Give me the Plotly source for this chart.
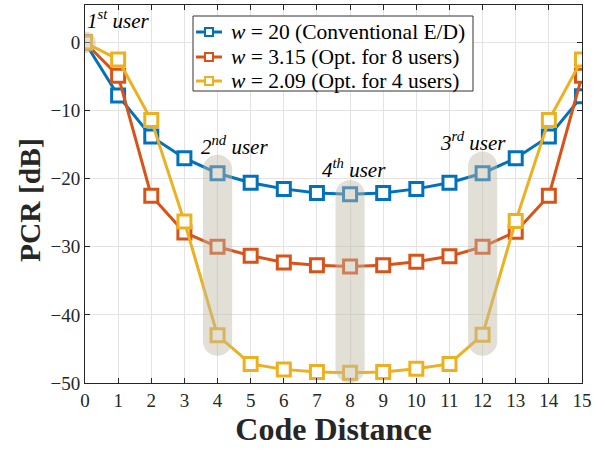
import plotly.graph_objects as go

# Code distance (0..15) and PCR curves for three window parameters
code_distance = list(range(16))

pcr_w20 = [0, -7.8, -13.8, -17.0, -19.2, -20.6, -21.5, -22.1, -22.3,
           -22.1, -21.5, -20.6, -19.2, -17.0, -13.8, -7.9]
pcr_w315 = [0, -4.9, -22.5, -27.9, -30.0, -31.3, -32.3, -32.7, -32.9,
            -32.7, -32.2, -31.4, -30.0, -27.8, -22.5, -4.9]
pcr_w209 = [0, -2.5, -11.4, -26.3, -43.0, -47.2, -48.0, -48.4, -48.5,
            -48.4, -47.9, -47.2, -42.9, -26.2, -11.4, -2.5]

series_names = [
    "<i>w</i> = 20 (Conventional E/D)",
    "<i>w</i> = 3.15 (Opt. for 8 users)",
    "<i>w</i> = 2.09 (Opt. for 4 users)",
]
series_colors = ["#0072BD", "#D95319", "#EDB120"]

# Highlighted user positions: (code distance, top, bottom) of shaded pills
user_marks = [(4, -16.5, -46.0), (8, -20.2, -50.0), (12, -16.0, -46.0)]
user_labels = [
    (1.0, 3.3, "1<sup>st</sup> user"),
    (4.5, -15.2, "2<sup>nd</sup> user"),
    (8.13, -18.5, "4<sup>th</sup> user"),
    (11.72, -14.6, "3<sup>rd</sup> user"),
]

FONT = "Liberation Serif, Times New Roman, serif"

# Plot-area geometry in pixels (used for legend box placement)
W, H = 605, 452
ML, MR, MT, MB = 85, 23, 5, 69
PW, PH = W - ML - MR, H - MT - MB


def px(xp):
    return (xp - ML) / PW


def py(yp):
    return (H - MB - yp) / PH


fig = go.Figure()
for name, ys, col in zip(series_names, [pcr_w20, pcr_w315, pcr_w209], series_colors):
    fig.add_trace(go.Scatter(
        x=code_distance, y=ys, name=name, mode="lines+markers",
        line=dict(color=col, width=3),
        marker=dict(symbol="square", size=13, color="white",
                    line=dict(color=col, width=3)),
        showlegend=False,
    ))

# Rounded translucent pills around highlighted points
rx, ry = 0.44, 2.1
k = 0.5523


def pill(xc, ytop, ybot):
    xl, xr = xc - rx, xc + rx
    yt, yb = ytop - ry, ybot + ry
    return (f"M {xl} {yt} C {xl} {yt + k*ry} {xc - k*rx} {ytop} {xc} {ytop} "
            f"C {xc + k*rx} {ytop} {xr} {yt + k*ry} {xr} {yt} "
            f"L {xr} {yb} C {xr} {yb - k*ry} {xc + k*rx} {ybot} {xc} {ybot} "
            f"C {xc - k*rx} {ybot} {xl} {yb - k*ry} {xl} {yb} Z")


shapes = []
for xc, yt, yb in user_marks:
    shapes.append(dict(type="path", path=pill(xc, yt, yb), layer="above",
                       fillcolor="rgba(190,184,165,0.45)", line=dict(width=0)))
shapes.append(dict(type="circle", x0=-0.33, x1=0.33, y0=-1.6, y1=1.6, layer="above",
                   fillcolor="rgba(190,184,165,0.45)", line=dict(width=0)))

annotations = [
    dict(x=x, y=y, text=f"<i>{t}</i>", showarrow=False, xanchor="center",
         yanchor="middle", font=dict(family=FONT, size=21, color="black"))
    for x, y, t in user_labels
]

# Compact legend box with line+marker icons
shapes.append(dict(type="rect", xref="paper", yref="paper",
                   x0=px(193), x1=px(473), y0=py(91), y1=py(16), layer="above",
                   fillcolor="white", line=dict(color="#333333", width=1)))
row_y = [32, 57, 81]
for name, col, ry_px in zip(series_names, series_colors, row_y):
    shapes.append(dict(type="line", xref="paper", yref="paper",
                       x0=px(196), x1=px(222), y0=py(ry_px), y1=py(ry_px),
                       layer="above", line=dict(color=col, width=3)))
    shapes.append(dict(type="rect", xref="paper", yref="paper",
                       x0=px(205), x1=px(213), y0=py(ry_px + 4), y1=py(ry_px - 4),
                       layer="above", fillcolor="white", line=dict(color=col, width=2)))
    annotations.append(dict(x=px(229), y=py(ry_px), xref="paper", yref="paper",
                            text=name, showarrow=False, xanchor="left",
                            yanchor="middle",
                            font=dict(family=FONT, size=21.5, color="black")))

# Y-axis title
annotations.append(dict(x=px(30), y=py(200), xref="paper", yref="paper",
                        text="<b>PCR [dB]</b>", showarrow=False, textangle=-90,
                        xanchor="center", yanchor="middle",
                        font=dict(family=FONT, size=29.5, color="#262626")))

tick_font = dict(family=FONT, size=19, color="#262626")

fig.update_layout(
    width=W, height=H,
    margin=dict(l=ML, r=MR, t=MT, b=MB),
    paper_bgcolor="white", plot_bgcolor="white",
    font=dict(family=FONT, size=19, color="#262626"),
    shapes=shapes, annotations=annotations, showlegend=False,
    xaxis=dict(range=[0, 15], tickmode="linear", dtick=1, showgrid=True,
               gridcolor="#e3e3e3", gridwidth=1, zeroline=False,
               showline=True, linecolor="#262626", linewidth=1, mirror="ticks",
               ticks="inside", ticklen=5, tickcolor="#262626", tickfont=tick_font,
               title=dict(text="<b>Code Distance</b>", standoff=6,
                          font=dict(family=FONT, size=32, color="#262626"))),
    yaxis=dict(range=[-50, 5.5], tickmode="linear", tick0=-50, dtick=10,
               showgrid=True, gridcolor="#e3e3e3", gridwidth=1, zeroline=False,
               showline=True, linecolor="#262626", linewidth=1, mirror="ticks",
               ticks="inside", ticklen=5, tickcolor="#262626", tickfont=tick_font),
)

fig.write_html("out.html")
